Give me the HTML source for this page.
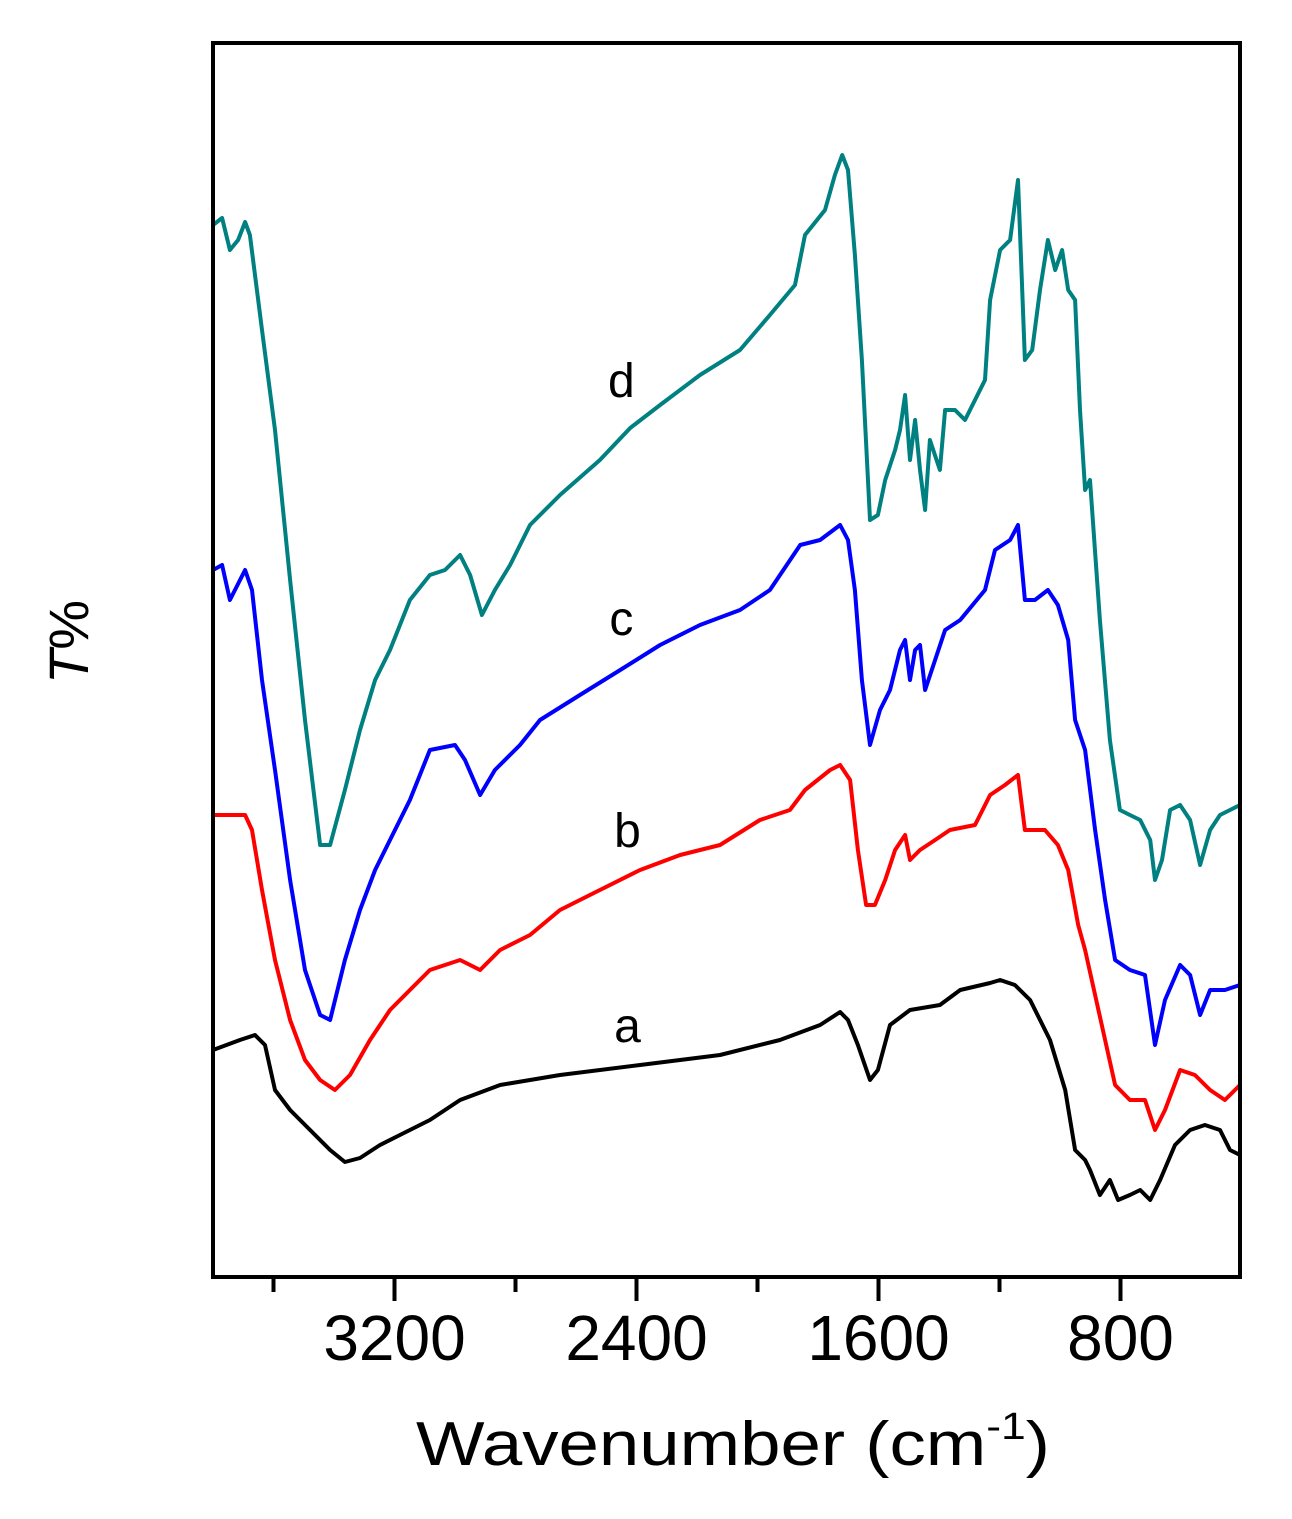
<!DOCTYPE html>
<html><head><meta charset="utf-8"><style>
html,body{margin:0;padding:0;background:#fff;}
svg{display:block;font-family:"Liberation Sans",sans-serif;}
</style></head><body>
<svg id="chart" width="1292" height="1519" viewBox="0 0 1292 1519">
<g id="series"></g>
<rect x="213" y="43" width="1027" height="1234" fill="none" stroke="#000" stroke-width="4"/>
<g id="ticks"></g>
<text x="416" y="1465" font-size="62" textLength="634" lengthAdjust="spacingAndGlyphs">Wavenumber (cm<tspan font-size="38" dy="-26">-1</tspan><tspan dy="26">)</tspan></text>
<text transform="translate(88,642) rotate(-90)" text-anchor="middle" font-size="56"><tspan font-style="italic">T</tspan>%</text>
</svg>
<script>
const xTicks=[3600,3200,2800,2400,2000,1600,1200,800];
const xTickLabels=["","3200","","2400","","1600","","800"];
const seriesNames=["a","b","c","d"];
const seriesColors=["#000000","#ff0000","#0000ff","#008080"];
const labelWn=[2430,2430,2450,2450];
const labelT=[235,430,642,880];
const wnD=[3800,3770,3744,3717,3694,3678,3638,3595,3545,3496,3446,3413,3364,3314,3264,3215,3149,3083,3033,2983,2950,2911,2868,2818,2752,2653,2521,2421,2322,2190,2058,1959,1876,1843,1777,1744,1720,1701,1678,1655,1628,1602,1578,1545,1529,1512,1496,1479,1463,1446,1430,1397,1380,1347,1314,1248,1231,1198,1165,1139,1116,1092,1066,1040,1016,993,973,950,934,917,901,868,835,802,769,735,702,686,663,636,603,570,537,504,471,438,405];
const tD=[1052,1059,1027,1037,1055,1042,947,847,697,557,432,432,487,547,597,627,677,702,707,722,702,662,687,712,752,782,817,849,872,902,927,962,992,1042,1067,1102,1122,1107,1022,917,757,762,797,827,847,882,817,857,807,767,837,807,867,867,857,897,977,1027,1037,1097,917,927,987,1037,1007,1027,987,977,867,787,797,657,537,467,462,457,437,397,417,467,472,457,412,447,462,467,472];
const wnC=[3800,3770,3744,3694,3671,3638,3595,3545,3496,3446,3413,3364,3314,3264,3215,3149,3083,3000,2967,2917,2868,2785,2719,2587,2454,2322,2190,2058,1959,1859,1793,1727,1701,1678,1655,1628,1595,1562,1529,1512,1496,1479,1463,1446,1413,1380,1330,1248,1215,1165,1139,1116,1083,1040,1007,973,950,917,884,851,818,769,719,686,653,603,570,537,504,455,405];
const tC=[707,712,677,707,687,597,507,397,307,262,257,317,367,407,437,477,527,532,517,482,507,532,557,582,607,632,652,667,687,732,737,752,737,687,597,532,567,587,627,637,597,627,632,587,617,647,657,687,727,737,752,677,677,687,672,637,557,527,447,377,317,307,302,232,277,312,302,262,287,287,292];
const wnB=[3800,3694,3671,3638,3595,3545,3496,3446,3397,3347,3281,3215,3149,3083,2983,2917,2851,2752,2653,2521,2388,2256,2124,1992,1893,1843,1760,1727,1694,1668,1641,1612,1578,1545,1512,1496,1463,1413,1364,1281,1231,1182,1139,1116,1050,1007,973,940,917,884,851,818,769,719,686,653,603,554,504,455,405];
const tB=[462,462,447,387,317,257,217,197,187,202,237,267,287,307,317,307,327,342,367,387,407,422,432,457,467,487,507,512,497,427,372,372,397,427,442,417,427,437,447,452,482,492,502,447,447,432,407,352,327,282,237,192,177,177,147,167,207,202,187,177,192];
const wnA=[3800,3711,3661,3628,3595,3545,3479,3413,3364,3314,3248,3182,3083,2983,2851,2653,2388,2124,1926,1793,1727,1701,1668,1628,1602,1562,1496,1397,1330,1231,1198,1149,1099,1033,983,950,917,901,868,835,808,769,735,702,669,620,570,521,471,438,405];
const tA=[227,237,242,232,187,167,147,127,115,119,132,142,157,177,192,202,212,222,237,252,265,257,232,197,207,252,267,272,287,294,297,292,277,237,187,127,117,107,82,97,77,82,87,77,97,132,147,152,147,127,122];
const data=[[wnA,tA],[wnB,tB],[wnC,tC],[wnD,tD]];
const L=213,R=1240,T0=43,B=1277;
const xs=w=>L+(3800-w)*(R-L)/(3800-405);
const ys=t=>B-t*(B-T0)/1234;
const NS="http://www.w3.org/2000/svg";
const g=document.getElementById('series');
data.forEach((d,i)=>{
  const p=document.createElementNS(NS,'path');
  
  
  p.setAttribute('d',d[0].map((w,j)=>(j?'L':'M')+xs(w).toFixed(1)+' '+ys(d[1][j]).toFixed(1)).join(''));
  p.setAttribute('fill','none');p.setAttribute('stroke',seriesColors[i]);p.setAttribute('stroke-width','4');p.setAttribute('stroke-linejoin','round');
  g.appendChild(p);
  const t=document.createElementNS(NS,'text');
  
  
  t.setAttribute('x',xs(labelWn[i]));t.setAttribute('y',ys(labelT[i]));
  t.setAttribute('font-size','48');t.setAttribute('text-anchor','middle');
  t.textContent=seriesNames[i];
  g.appendChild(t);
});
const tk=document.getElementById('ticks');
xTicks.forEach((w,i)=>{
  const major=xTickLabels[i]!=="";
  const l=document.createElementNS(NS,'line');
  
  
  l.setAttribute('x1',xs(w));l.setAttribute('x2',xs(w));l.setAttribute('y1',B);l.setAttribute('y2',B+(major?24:15));
  l.setAttribute('stroke','#000');l.setAttribute('stroke-width','4');
  tk.appendChild(l);
  if(major){
    const t=document.createElementNS(NS,'text');
    
    
    t.setAttribute('x',xs(w));t.setAttribute('y',1360);t.setAttribute('font-size','64');t.setAttribute('text-anchor','middle');
    t.textContent=xTickLabels[i];
    tk.appendChild(t);
  }
});
</script>
</body></html>
